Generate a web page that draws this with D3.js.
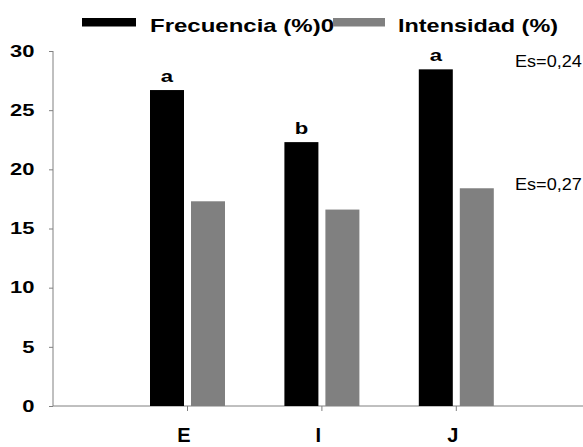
<!DOCTYPE html>
<head>
<meta charset="utf-8">
<style>
body { margin: 0; background: #fff; }
svg { display: block; font-family: "Liberation Sans", Arial, sans-serif; }
.tick text { font-weight: bold; }
</style>
</head>
<body>
<script src="https://d3js.org/d3.v7.min.js"></script>
<script>

// Data
var categories = ["E", "I", "J"];
var frecuencia = [26.7, 22.3, 28.45];
var intensidad = [17.3, 16.6, 18.4];
var letters = ["a", "b", "a"];
var seriesNames = ["Frecuencia (%)0", "Intensidad (%)"];
var seriesColors = ["#000000", "#808080"];
var esLabels = ["Es=0,24", "Es=0,27"];
var yTicks = [0, 5, 10, 15, 20, 25, 30];

var width = 583, height = 447;

var svg = d3.select("body").append("svg")
    .attr("width", width)
    .attr("height", height);

// text in the picture is drawn wider than the font, so stretch it
function stretch(sel, k) {
  sel.each(function() {
    var w = this.getComputedTextLength();
    this.setAttribute("textLength", w * k);
    this.setAttribute("lengthAdjust", "spacingAndGlyphs");
  });
}

// scales
var y = d3.scaleLinear().domain([0, 30]).range([406, 51]);
var x = d3.scaleBand().domain(categories).range([120.3, 523.5]).padding(0);
var xs = d3.scaleBand().domain([0, 1]).range([-37.5, 37.5]).paddingInner(0.1707).paddingOuter(0);

var axisX = 53;

// y axis
var gy = svg.append("g")
    .attr("transform", "translate(" + axisX + ",0)")
    .call(d3.axisLeft(y).tickValues(yTicks).tickSize(4).tickPadding(14.5));
gy.select(".domain").attr("stroke", "#808080").attr("d", "M0," + y(30) + "V" + y(0));
gy.selectAll(".tick line").attr("stroke", "#808080");
gy.selectAll(".tick text").attr("font-size", 16.5).attr("fill", "#000");
stretch(gy.selectAll(".tick text"), 1.33);

// x axis
var gx = svg.append("g")
    .attr("transform", "translate(0," + y(0) + ")")
    .call(d3.axisBottom(x).tickSize(5).tickPadding(17));
gx.select(".domain").attr("stroke", "#808080").attr("d", "M" + axisX + ",0H" + width);
gx.selectAll(".tick line").attr("stroke", "#808080");
gx.selectAll(".tick text").attr("font-size", 20).attr("fill", "#000").attr("dx", -3.5);

// bars
var groups = svg.selectAll(".grp")
    .data(categories)
  .enter().append("g")
    .attr("class", "grp")
    .attr("transform", function(d) { return "translate(" + (x(d) + x.bandwidth() / 2) + ",0)"; });

groups.append("rect")
    .attr("x", xs(0))
    .attr("width", xs.bandwidth())
    .attr("y", function(d, i) { return y(frecuencia[i]); })
    .attr("height", function(d, i) { return y(0) - y(frecuencia[i]); })
    .attr("fill", seriesColors[0]);

groups.append("rect")
    .attr("x", xs(1))
    .attr("width", xs.bandwidth())
    .attr("y", function(d, i) { return y(intensidad[i]); })
    .attr("height", function(d, i) { return y(0) - y(intensidad[i]); })
    .attr("fill", seriesColors[1]);

// significance letters
var lt = groups.append("text")
    .attr("x", xs(0) + xs.bandwidth() / 2)
    .attr("y", function(d, i) { return y(frecuencia[i]) - 8; })
    .attr("text-anchor", "middle")
    .attr("font-size", 17)
    .attr("font-weight", "bold")
    .text(function(d, i) { return letters[i]; });
stretch(lt, 1.3);

// Es labels
var es = svg.selectAll(".es")
    .data(esLabels)
  .enter().append("text")
    .attr("class", "es")
    .attr("x", 515)
    .attr("y", function(d, i) { return i == 0 ? 66.7 : 190; })
    .attr("font-size", 16)
    .text(function(d) { return d; });
stretch(es, 1.13);

// legend
var leg = [
  {rx: 82, rw: 54, tx: 150, tw: 184},
  {rx: 333, rw: 52, tx: 398, tw: 160}
];
leg.forEach(function(l, i) {
  svg.append("rect")
      .attr("x", l.rx).attr("y", 18)
      .attr("width", l.rw).attr("height", 8.5)
      .attr("fill", seriesColors[i]);
  svg.append("text")
      .attr("x", l.tx).attr("y", 31.5)
      .attr("font-size", 18.6)
      .attr("font-weight", "bold")
      .attr("textLength", l.tw)
      .attr("lengthAdjust", "spacingAndGlyphs")
      .text(seriesNames[i]);
});

</script>
</body>
</html>
